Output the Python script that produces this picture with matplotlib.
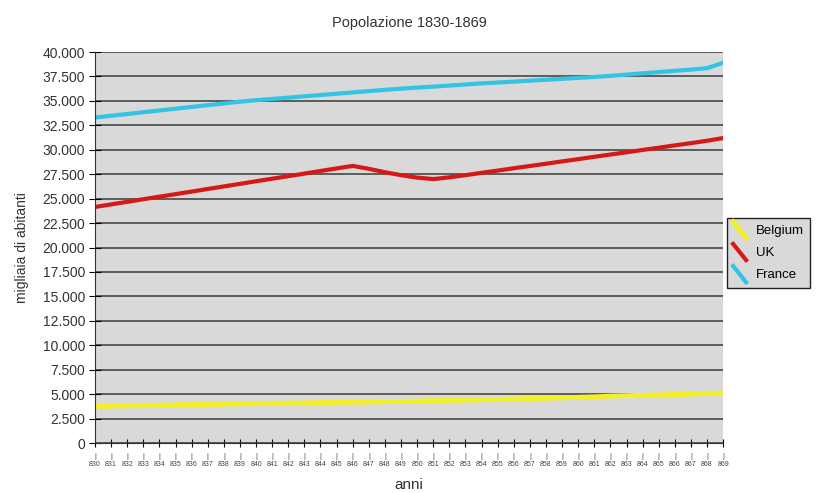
import matplotlib
matplotlib.use("Agg")
import matplotlib.pyplot as plt
from matplotlib.lines import Line2D
from matplotlib.legend_handler import HandlerLine2D
from matplotlib.ticker import FuncFormatter

plt.rcParams['font.family'] = ['Liberation Sans', 'DejaVu Sans']

# dati (migliaia di abitanti), 1830-1869
anni = list(range(1830, 1870))
belgium = [3750, 3780, 3810, 3840, 3870, 3900, 3930, 3950, 3980, 4000,
           4030, 4060, 4080, 4100, 4130, 4150, 4180, 4200, 4230, 4260,
           4290, 4330, 4360, 4390, 4420, 4460, 4500, 4540, 4580, 4620,
           4670, 4720, 4800, 4840, 4880, 4920, 4960, 5010, 5050, 5100]
uk = [24150, 24410, 24670, 24940, 25200, 25460, 25720, 25990, 26250, 26510,
      26780, 27040, 27300, 27560, 27830, 28090, 28350, 28050, 27700, 27400,
      27150, 27000, 27180, 27400, 27640, 27870, 28110, 28340, 28570, 28810,
      29040, 29280, 29510, 29740, 29980, 30210, 30450, 30680, 30920, 31200]
france = [33300, 33480, 33660, 33840, 34020, 34200, 34380, 34560, 34740, 34920,
          35070, 35200, 35330, 35470, 35600, 35730, 35870, 36000, 36130, 36250,
          36360, 36460, 36570, 36680, 36790, 36880, 36970, 37070, 37160, 37260,
          37350, 37450, 37560, 37690, 37820, 37950, 38080, 38200, 38350, 38900]
etichette = ["|\n" + str(a)[1:] for a in anni]


class DiagonalHandler(HandlerLine2D):
    # linea diagonale nella legenda
    def create_artists(self, legend, orig_handle, xdescent, ydescent,
                       width, height, fontsize, trans):
        w = width * 0.7
        line = Line2D([0, w], [height + 2, -3],
                      color=orig_handle.get_color(),
                      linewidth=orig_handle.get_linewidth())
        line.set_transform(trans)
        return [line]


fig = plt.figure(figsize=(8.37, 4.93), dpi=100)
ax = fig.add_axes([0.1135, 0.1014, 0.7505, 0.7931])
ax.set_facecolor('#d9d9d9')

ax.plot(anni, belgium, color='#f4f028', linewidth=3.5, label='Belgium')
ax.plot(anni, uk, color='#d81818', linewidth=3, label='UK')
ax.plot(anni, france, color='#33c3e3', linewidth=3, label='France')

ax.set_xlim(1830, 1869)
ax.set_ylim(0, 40000)
ax.set_yticks(range(0, 40001, 2500))
ax.yaxis.set_major_formatter(FuncFormatter(lambda v, p: f"{int(v):,}".replace(",", ".")))
ax.yaxis.grid(True, color='#3a3a3a', linewidth=1.1)
ax.set_axisbelow(True)

ax.set_xticks(anni)
ax.set_xticklabels(etichette, fontsize=5, color='#444444', linespacing=1.3)
ax.tick_params(axis='x', direction='inout', length=6, width=0.8, pad=4)
ax.tick_params(axis='y', direction='inout', length=8, width=0.8, labelsize=10,
               labelcolor='#333333', pad=3)

for s in ['top', 'right']:
    ax.spines[s].set_visible(False)
ax.spines['left'].set_color('#333333')
ax.spines['bottom'].set_color('#333333')

ax.set_title('Popolazione 1830-1869', fontsize=10.5, color='#333333', pad=18)
ax.set_ylabel('migliaia di abitanti', fontsize=10, color='#333333', labelpad=10)
ax.set_xlabel('anni', fontsize=11, color='#333333', labelpad=7)

leg = fig.legend(handler_map={Line2D: DiagonalHandler()},
                 loc='upper left', bbox_to_anchor=(0.868, 0.558),
                 fontsize=9.5, frameon=True, fancybox=False,
                 handlelength=1.4, handletextpad=0.3, borderpad=0.5,
                 labelspacing=0.75, borderaxespad=0)
leg.get_frame().set_facecolor('#d9d9d9')
leg.get_frame().set_edgecolor('#222222')
leg.get_frame().set_alpha(1)

fig.savefig('out.png', dpi=100)
